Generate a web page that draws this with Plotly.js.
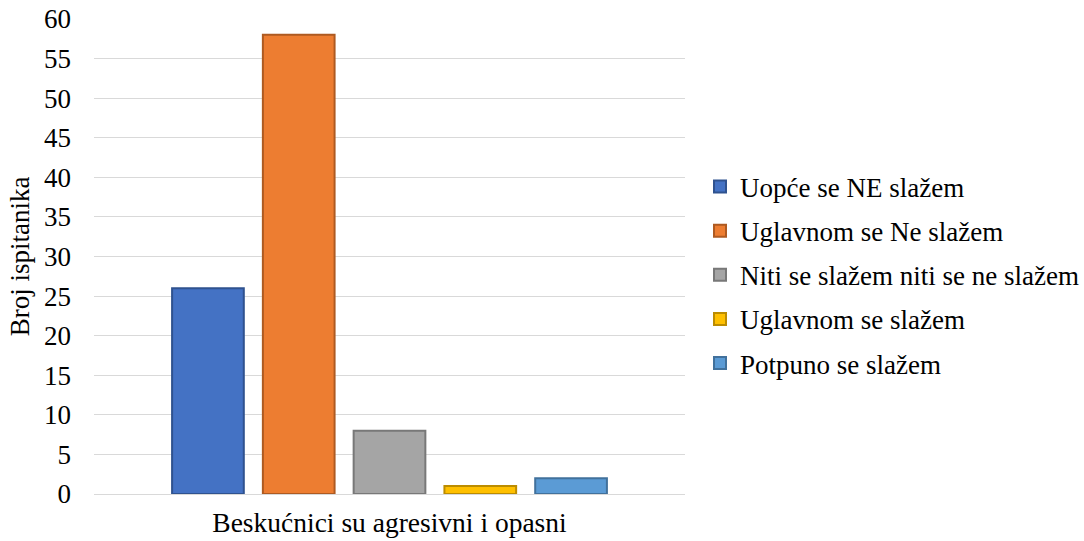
<!DOCTYPE html>
<html>
<head>
<meta charset="utf-8">
<script src="https://cdn.plot.ly/plotly-3.0.1.min.js"></script>
<style>html,body{margin:0;padding:0;background:#fff;}#chart{width:1084px;height:541px;}</style>
</head>
<body>
<div id="chart"></div>
<script>
const categories = ["Beskućnici su agresivni i opasni"];
const seriesNames = ["Uopće se NE slažem", "Uglavnom se Ne slažem", "Niti se slažem niti se ne slažem", "Uglavnom se slažem", "Potpuno se slažem"];
const seriesValues = [[26], [58], [8], [1], [2]];
const fillColors = ["#4472C4", "#ED7D31", "#A5A5A5", "#FFC000", "#5B9BD5"];
const lineColors = ["#2F528F", "#AE5A21", "#787878", "#BC8C00", "#41719C"];
const yTicks = [0, 5, 10, 15, 20, 25, 30, 35, 40, 45, 50, 55, 60];

const font = "'Liberation Serif', 'Times New Roman', serif";
const fs = 27;
const traces = seriesNames.map((name, i) => ({
  type: "bar",
  name: name,
  x: categories,
  y: seriesValues[i],
  legendgroup: "g" + i,
  marker: {color: fillColors[i], line: {color: lineColors[i], width: 2}},
  hoverinfo: "none"
}));

const layout = {
  width: 1084, height: 541,
  margin: {l: 94, r: 399, t: 19, b: 47, autoexpand: false},
  paper_bgcolor: "#fff", plot_bgcolor: "#fff",
  barmode: "group",
  bargap: 0.232,
  bargroupgap: 0.21,
  font: {family: font, color: "#000", size: fs},
  xaxis: {
    type: "category",
    showgrid: false,
    showline: true, linecolor: "#d9d9d9", linewidth: 1,
    ticks: "", ticklabelstandoff: 4,
    tickfont: {family: font, size: 27.5, color: "#000"},
    automargin: false
  },
  yaxis: {
    range: [0, 60],
    tickvals: yTicks,
    ticktext: yTicks.map(String),
    showgrid: true, gridcolor: "#d9d9d9", gridwidth: 1,
    zeroline: false, showline: false, ticks: "",
    ticklabelstandoff: 22,
    tickfont: {family: font, size: fs, color: "#000"},
    title: {text: "Broj ispitanika", font: {family: font, size: fs, color: "#000"}, standoff: 6},
    automargin: false
  },
  showlegend: true,
  legend: {
    x: 1.0254, xanchor: "left", y: 0.461, yanchor: "middle",
    font: {family: font, size: fs, color: "#000"},
    tracegroupgap: 6,
    traceorder: "grouped",
    itemwidth: 30
  }
};

Plotly.newPlot("chart", traces, layout, {displayModeBar: false, staticPlot: true});
</script>
</body>
</html>
